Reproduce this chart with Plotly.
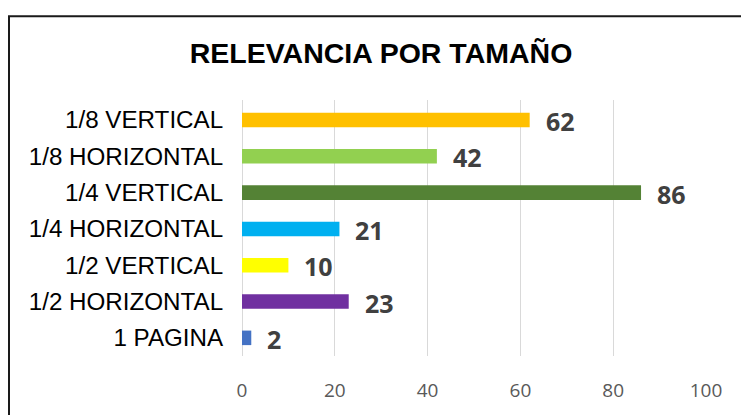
import plotly.graph_objects as go

categories = ["1/8 VERTICAL", "1/8 HORIZONTAL", "1/4 VERTICAL", "1/4 HORIZONTAL",
              "1/2 VERTICAL", "1/2 HORIZONTAL", "1 PAGINA"]
values = [62, 42, 86, 21, 10, 23, 2]
colors = ["#FFC000", "#92D050", "#548235", "#00B0F0", "#FFFF00", "#7030A0", "#4472C4"]
x_ticks = [0, 20, 40, 60, 80, 100]
title_text = "RELEVANCIA POR TAMAÑO"

W, H = 741, 415
L, R, T, B = 242, 35, 100, 52
pw, ph = W - L - R, H - T - B

fig = go.Figure()
fig.add_trace(go.Bar(
    x=values, y=categories, orientation="h",
    marker=dict(color=colors, line=dict(width=0)),
    hoverinfo="x+y",
))

for c, v in zip(categories, values):
    fig.add_annotation(
        x=v, y=c, text=f"<b>{v}</b>", showarrow=False,
        xanchor="left", yanchor="middle", xshift=14, yshift=-1,
        font=dict(family="Open Sans", size=25, color="#404040"),
    )

# chart border (outer frame)
def px_x(px):
    return (px - L) / pw

def px_y(py):
    return (H - B - py) / ph

fig.add_shape(type="rect", xref="paper", yref="paper",
              x0=px_x(9), x1=px_x(760), y0=px_y(440), y1=px_y(14),
              line=dict(color="#1a1a1a", width=2), fillcolor="rgba(0,0,0,0)", layer="above")

fig.update_layout(
    width=W, height=H,
    margin=dict(l=L, r=R, t=T, b=B, pad=0),
    paper_bgcolor="white", plot_bgcolor="white",
    bargap=0.6,
    showlegend=False,
    title=dict(text=f"<b>{title_text}</b>", x=381 / W, xanchor="center",
               y=1 - 53 / H, yanchor="middle", yref="container",
               font=dict(family="Liberation Sans", size=28.5, color="#000000")),
    xaxis=dict(range=[0, 100], tickvals=x_ticks, showgrid=True, gridcolor="#d9d9d9",
               gridwidth=1, zeroline=True, zerolinecolor="#d9d9d9", zerolinewidth=1,
               showline=False, ticks="outside", ticklen=17, tickcolor="rgba(0,0,0,0)",
               tickfont=dict(family="Open Sans", size=19, color="#595959"), fixedrange=True),
    yaxis=dict(autorange="reversed", showgrid=False, zeroline=False, showline=False,
               ticks="outside", ticklen=13, tickcolor="rgba(0,0,0,0)",
               tickfont=dict(family="Liberation Sans", size=24.2, color="#000000")),
)

fig.write_html("out.html", config={"displayModeBar": False},
               post_script="document.body.style.margin='0';")
